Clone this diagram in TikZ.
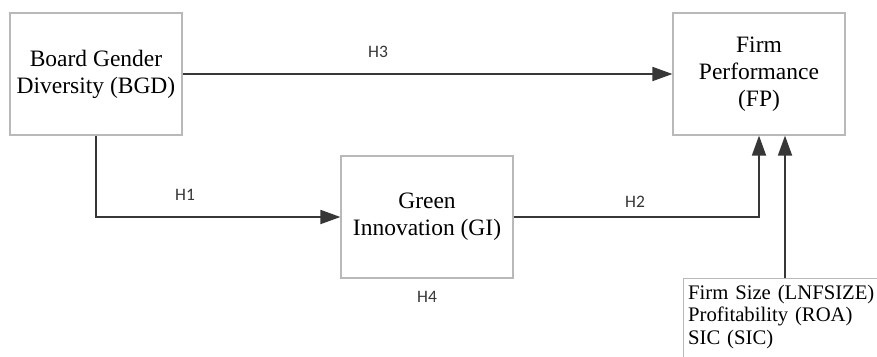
\documentclass[tikz,border=0pt]{standalone}
\usepackage{fontspec}
\setmainfont{Liberation Serif}
\newfontfamily\hfont{Carlito}
\usetikzlibrary{arrows.meta}
\definecolor{boxgray}{RGB}{185,185,185}
\definecolor{linegray}{RGB}{55,55,55}
\tikzset{
  varbox/.style={draw=boxgray, line width=1.2pt, minimum width=172pt, minimum height=122pt,
    align=center, font=\fontsize{23.5}{27}\selectfont, inner sep=0pt},
  link/.style={draw=linegray, line width=1.8pt, -{Triangle[length=20pt,width=14pt]}},
  hlabel/.style={font=\hfont\fontsize{17.5}{19}\selectfont, text=linegray}
}
\begin{document}
\begin{tikzpicture}[x=1pt,y=-1pt]
\clip (0,0) rectangle (877,356);
\fill[white] (0,0) rectangle (877,356);
\node[varbox] (bgd) at (96,74) {Board Gender\\Diversity (BGD)};
\node[varbox] (fp) at (759,74) {Firm\\Performance\\(FP)};
\node[varbox] (gi) at (427,217) {Green\\Innovation (GI)};
\node[draw=boxgray, line width=1.2pt, anchor=north west,
  align=left, text width=230pt, inner xsep=4.5pt, inner ysep=6.5pt, text depth=70pt,
  font=\fontsize{20.7}{22.5}\selectfont]
  (ctrl) at (683,278) {Firm Size (LNFSIZE)\\Profitability (ROA)\\SIC (SIC)};
\coordinate (cx) at (785,0);
\draw[link] (bgd.east) -- (fp.west);
\draw[link] (bgd.south) |- (gi.west);
\draw[link] (gi.east) -| (fp.south);
\draw[link] (ctrl.north -| cx) -- (fp.south -| cx);
\node[hlabel] (h3) at (378,52) {H3};
\node[hlabel] (h1) at (185,195) {H1};
\node[hlabel] (h2) at (635,202) {H2};
\node[hlabel] (h4) at (427,297) {H4};
\end{tikzpicture}
\end{document}
